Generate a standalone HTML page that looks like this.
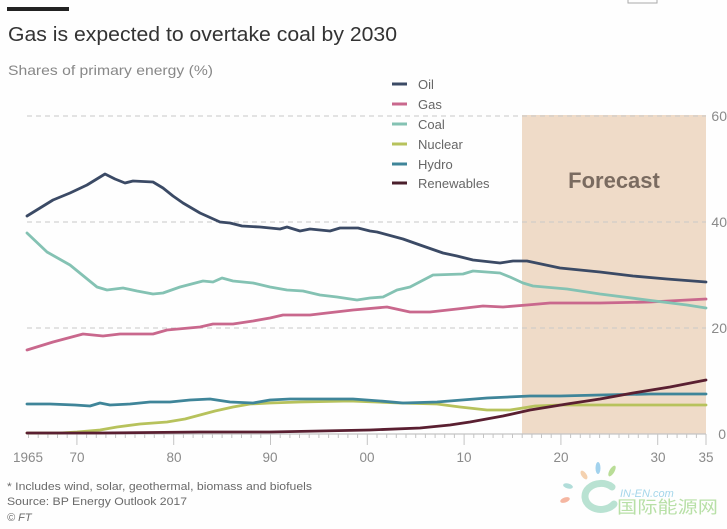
<!DOCTYPE html>
<html><head><meta charset="utf-8"><style>
html,body{margin:0;padding:0;background:#fff;}
svg{display:block;}
text{font-family:"Liberation Sans","Noto Sans CJK SC",sans-serif;}
</style></head><body>
<svg width="727" height="529" viewBox="0 0 727 529" xmlns="http://www.w3.org/2000/svg">
<rect x="0" y="0" width="727" height="529" fill="#fefefe"/>
<rect x="628" y="-1" width="29" height="4" fill="none" stroke="#aaa" stroke-width="1"/>
<rect x="7" y="7" width="62" height="4" fill="#222"/>
<text x="8" y="41" font-size="20" fill="#333" textLength="389" lengthAdjust="spacingAndGlyphs">Gas is expected to overtake coal by 2030</text>
<text x="8" y="75" font-size="14" fill="#888" textLength="205" lengthAdjust="spacingAndGlyphs">Shares of primary energy (%)</text>

<!-- forecast box -->
<rect x="522" y="115" width="184" height="319" fill="#efdbc8"/>
<text x="614" y="188" font-size="22" font-weight="bold" fill="#7a6b60" text-anchor="middle">Forecast</text>

<!-- gridlines -->
<g stroke="#c8c8c8" stroke-width="1" stroke-dasharray="5 4">
<line x1="27" y1="116" x2="706" y2="116"/>
<line x1="27" y1="222" x2="706" y2="222"/>
<line x1="27" y1="328" x2="706" y2="328"/>
</g>
<!-- axis -->
<line x1="27" y1="434" x2="706" y2="434" stroke="#c4c4c4" stroke-width="1.2"/>
<g stroke="#c4c4c4" stroke-width="1">
<line x1="28.5" y1="434" x2="28.5" y2="438"/><line x1="38.2" y1="434" x2="38.2" y2="438"/><line x1="47.9" y1="434" x2="47.9" y2="438"/><line x1="57.5" y1="434" x2="57.5" y2="438"/><line x1="67.2" y1="434" x2="67.2" y2="438"/>
<line x1="76.9" y1="434" x2="76.9" y2="445"/><line x1="86.6" y1="434" x2="86.6" y2="438"/><line x1="96.3" y1="434" x2="96.3" y2="438"/><line x1="105.9" y1="434" x2="105.9" y2="438"/><line x1="115.6" y1="434" x2="115.6" y2="438"/>
<line x1="125.3" y1="434" x2="125.3" y2="438"/><line x1="135" y1="434" x2="135" y2="438"/><line x1="144.7" y1="434" x2="144.7" y2="438"/><line x1="154.3" y1="434" x2="154.3" y2="438"/><line x1="164" y1="434" x2="164" y2="438"/>
<line x1="173.7" y1="434" x2="173.7" y2="445"/><line x1="183.4" y1="434" x2="183.4" y2="438"/><line x1="193.1" y1="434" x2="193.1" y2="438"/><line x1="202.7" y1="434" x2="202.7" y2="438"/><line x1="212.4" y1="434" x2="212.4" y2="438"/>
<line x1="222.1" y1="434" x2="222.1" y2="438"/><line x1="231.8" y1="434" x2="231.8" y2="438"/><line x1="241.5" y1="434" x2="241.5" y2="438"/><line x1="251.1" y1="434" x2="251.1" y2="438"/><line x1="260.8" y1="434" x2="260.8" y2="438"/>
<line x1="270.5" y1="434" x2="270.5" y2="445"/><line x1="280.2" y1="434" x2="280.2" y2="438"/><line x1="289.9" y1="434" x2="289.9" y2="438"/><line x1="299.5" y1="434" x2="299.5" y2="438"/><line x1="309.2" y1="434" x2="309.2" y2="438"/>
<line x1="318.9" y1="434" x2="318.9" y2="438"/><line x1="328.6" y1="434" x2="328.6" y2="438"/><line x1="338.3" y1="434" x2="338.3" y2="438"/><line x1="347.9" y1="434" x2="347.9" y2="438"/><line x1="357.6" y1="434" x2="357.6" y2="438"/>
<line x1="367.3" y1="434" x2="367.3" y2="445"/><line x1="377" y1="434" x2="377" y2="438"/><line x1="386.7" y1="434" x2="386.7" y2="438"/><line x1="396.3" y1="434" x2="396.3" y2="438"/><line x1="406" y1="434" x2="406" y2="438"/>
<line x1="415.7" y1="434" x2="415.7" y2="438"/><line x1="425.4" y1="434" x2="425.4" y2="438"/><line x1="435.1" y1="434" x2="435.1" y2="438"/><line x1="444.7" y1="434" x2="444.7" y2="438"/><line x1="454.4" y1="434" x2="454.4" y2="438"/>
<line x1="464.1" y1="434" x2="464.1" y2="445"/><line x1="473.8" y1="434" x2="473.8" y2="438"/><line x1="483.5" y1="434" x2="483.5" y2="438"/><line x1="493.1" y1="434" x2="493.1" y2="438"/><line x1="502.8" y1="434" x2="502.8" y2="438"/>
<line x1="512.5" y1="434" x2="512.5" y2="438"/><line x1="522.2" y1="434" x2="522.2" y2="438"/><line x1="531.9" y1="434" x2="531.9" y2="438"/><line x1="541.5" y1="434" x2="541.5" y2="438"/><line x1="551.2" y1="434" x2="551.2" y2="438"/>
<line x1="560.9" y1="434" x2="560.9" y2="445"/><line x1="570.6" y1="434" x2="570.6" y2="438"/><line x1="580.3" y1="434" x2="580.3" y2="438"/><line x1="589.9" y1="434" x2="589.9" y2="438"/><line x1="599.6" y1="434" x2="599.6" y2="438"/>
<line x1="609.3" y1="434" x2="609.3" y2="438"/><line x1="619" y1="434" x2="619" y2="438"/><line x1="628.7" y1="434" x2="628.7" y2="438"/><line x1="638.3" y1="434" x2="638.3" y2="438"/><line x1="648" y1="434" x2="648" y2="438"/>
<line x1="657.7" y1="434" x2="657.7" y2="445"/><line x1="667.4" y1="434" x2="667.4" y2="438"/><line x1="677.1" y1="434" x2="677.1" y2="438"/><line x1="686.7" y1="434" x2="686.7" y2="438"/><line x1="696.4" y1="434" x2="696.4" y2="438"/>
<line x1="706" y1="434" x2="706" y2="445"/>
</g>

<!-- series -->
<g fill="none" stroke-width="2.8" stroke-linejoin="round" stroke-linecap="round">
<polyline stroke="#b7c25c" points="27,433 60,433 77,432 100,430 117,427 140,424 167,422 185,419 200,415 215,411 233,407 250,404 270,403 300,402 350,401 400,403 437,404 460,407 487,410 510,410 523,408 535,406 560,405 706,405"/>
<polyline stroke="#3f8599" points="27,404 50,404 75,405 90,406 100,403 110,405 130,404 150,402 170,402 190,400 210,399 230,402 253,403 270,400 290,399 320,399 353,399 380,401 403,403 437,402 487,398 530,396 560,396 600,395 650,394 706,394"/>
<polyline stroke="#5a1f31" points="27,433 100,433 200,432 270,432 370,430 420,428 450,425 470,422 503,416 530,410 567,404 600,399 633,393 670,387 706,380"/>
<polyline stroke="#c9688d" points="27,350 53,342 83,334 103,336 120,334 153,334 167,330 200,327 213,324 233,324 253,321 270,318 283,315 310,315 327,313 353,310 387,307 410,312 430,312 457,309 483,306 503,307 527,305 550,303 600,303 650,302 706,299"/>
<polyline stroke="#84c2b3" points="27,233 47,252 70,265 97,287 107,290 123,288 137,291 153,294 163,293 180,287 203,281 213,282 222,278 233,281 253,283 270,287 287,290 303,291 320,295 337,297 357,300 370,298 383,297 397,290 410,287 433,275 463,274 473,271 500,273 510,277 523,283 533,286 567,289 600,294 647,300 687,305 706,308"/>
<polyline stroke="#3b4a65" points="27,216 40,208 53,200 70,193 87,185 105,174 115,179 125,183 133,181 153,182 163,188 173,196 183,203 200,213 220,222 230,223 242,226 260,227 280,229 287,227 300,231 310,229 330,231 340,228 358,228 370,231 377,232 403,239 420,245 443,253 457,256 473,260 500,263 513,261 527,261 560,268 600,272 633,276 667,279 706,282"/>
</g>

<!-- axis labels -->
<g font-size="13.5" fill="#8a8a8a" text-anchor="middle">
<text x="28" y="462">1965</text>
<text x="77" y="462">70</text>
<text x="174" y="462">80</text>
<text x="270" y="462">90</text>
<text x="367" y="462">00</text>
<text x="464" y="462">10</text>
<text x="561" y="462">20</text>
<text x="658" y="462">30</text>
<text x="706" y="462">35</text>
</g>
<g font-size="14" fill="#8a8a8a" text-anchor="end">
<text x="727" y="121">60</text>
<text x="727" y="227">40</text>
<text x="727" y="333">20</text>
<text x="726" y="439">0</text>
</g>

<!-- legend -->
<g stroke-width="3">
<line x1="392" y1="84" x2="407" y2="84" stroke="#3b4a65"/>
<line x1="392" y1="104" x2="407" y2="104" stroke="#c9688d"/>
<line x1="392" y1="124" x2="407" y2="124" stroke="#84c2b3"/>
<line x1="392" y1="144" x2="407" y2="144" stroke="#b7c25c"/>
<line x1="392" y1="164" x2="407" y2="164" stroke="#3f8599"/>
<line x1="392" y1="183" x2="407" y2="183" stroke="#4a1f2c"/>
</g>
<g font-size="13" fill="#666">
<text x="418" y="89">Oil</text>
<text x="418" y="109">Gas</text>
<text x="418" y="129">Coal</text>
<text x="418" y="149">Nuclear</text>
<text x="418" y="169">Hydro</text>
<text x="418" y="188">Renewables</text>
</g>

<!-- footnotes -->
<g font-size="11" fill="#6a6a6a">
<text x="7" y="490" textLength="305" lengthAdjust="spacingAndGlyphs">* Includes wind, solar, geothermal, biomass and biofuels</text>
<text x="7" y="505" textLength="180" lengthAdjust="spacingAndGlyphs">Source: BP Energy Outlook 2017</text>
<text x="7" y="521" font-style="italic">© FT</text>
</g>

<!-- watermark -->
<g opacity="0.8">
<ellipse cx="584" cy="475" rx="2.5" ry="5" fill="#f2c79c" transform="rotate(-35 584 475)"/>
<ellipse cx="598" cy="468" rx="2.5" ry="6" fill="#8cc8ea"/>
<ellipse cx="612" cy="471" rx="2.5" ry="6" fill="#a8d67e" transform="rotate(30 612 471)"/>
<ellipse cx="568" cy="486" rx="5" ry="2.5" fill="#9fd6d0" transform="rotate(15 568 486)"/>
<ellipse cx="565" cy="500" rx="5" ry="2.5" fill="#f4a58a" transform="rotate(-20 565 500)"/>
<path d="M612 487 A16 13 0 1 0 614 504" fill="none" stroke="#a9dcc8" stroke-width="7" stroke-linecap="round"/>
<text x="620" y="497" font-size="11" font-style="italic" fill="#8fcde6">IN-EN.com</text>
<text x="617" y="513" font-size="17" fill="#a7d992" textLength="101" lengthAdjust="spacingAndGlyphs">国际能源网</text>
</g>
</svg>
</body></html>
